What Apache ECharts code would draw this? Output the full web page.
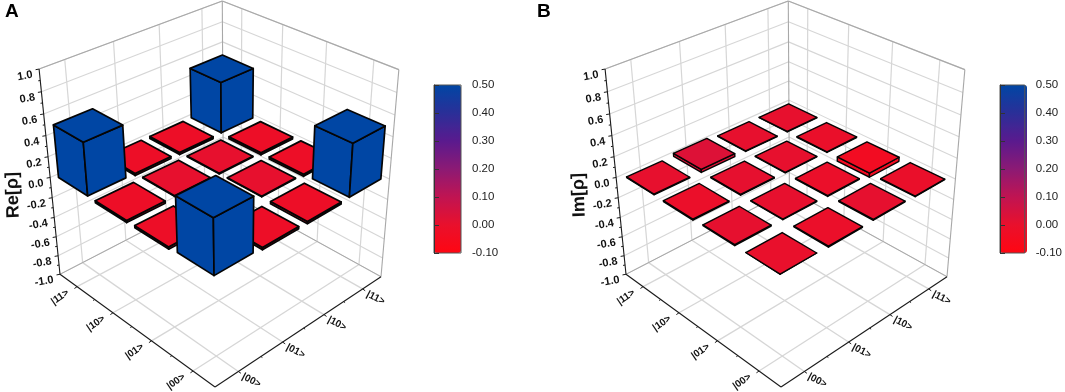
<!DOCTYPE html>
<html><head><meta charset="utf-8">
<style>html,body{margin:0;padding:0;background:#fff}#c{width:1065px;height:392px}</style>
<script src="https://cdn.jsdelivr.net/npm/echarts@6/dist/echarts.min.js"></script>
</head><body><div id="c"></div>
<script>
// ---------- data ----------
const kets = ['|00>', '|01>', '|10>', '|11>'];
const zTicks = [-1.0, -0.8, -0.6, -0.4, -0.2, 0.0, 0.2, 0.4, 0.6, 0.8, 1.0];
const rePart = [
  [ 0.50, -0.02, -0.02,  0.50],
  [-0.02,  0.006, 0.006, -0.02],
  [-0.02,  0.006, 0.006, -0.02],
  [ 0.50, -0.02, -0.02,  0.50]
];
const imPart = [
  [ 0.00,  0.008, -0.008,  0.006],
  [-0.008, 0.005,  0.008,  0.03],
  [ 0.008, -0.008, 0.005,  0.006],
  [-0.006, -0.04, -0.006, 0.005]
];
const colorStops = ['#ff0612', '#e9102c', '#c01452', '#8c1a74', '#5a1a8e', '#2a2f98', '#0046a4'];
const cbMin = -0.1, cbMax = 0.5;

// ---------- 3D projection (perspective camera fitted to the box corners) ----------
const cam = {O:[223.4,189.8], L:[60,274.3], R:[381,276.7], F:[215,387], T:[222,1], zVP:[234,1982]};
function makeCamera(c){
  const S=[c.O[0]-c.L[0]+c.F[0]-c.R[0], c.O[1]-c.L[1]+c.F[1]-c.R[1]];
  const d1=[c.L[0]-c.F[0],c.L[1]-c.F[1]], d2=[c.R[0]-c.F[0],c.R[1]-c.F[1]];
  const det=(a,b)=>a[0]*b[1]-a[1]*b[0], D=det(d1,d2);
  const a=det(S,d2)/D, b=det(d1,S)/D;
  const zc=(c.T[1]-c.O[1])/(c.zVP[1]-c.T[1]);
  const m=[0,1].map(k=>[c.O[k], c.L[k]*(1+a)-c.O[k], c.R[k]*(1+b)-c.O[k], c.zVP[k]*zc]);
  return (p,q,z,dx)=>{
    const w=1+a*p+b*q+zc*z;
    return [(m[0][0]+m[0][1]*p+m[0][2]*q+m[0][3]*z)/w+dx, (m[1][0]+m[1][1]*p+m[1][2]*q+m[1][3]*z)/w];
  };
}
const project=makeCamera(cam);
const zScale=v=>echarts.number.linearMap(v,[-1,1],[0,1]);
const cellPos=i=>(kets.length-0.5-i)/kets.length;     // category index -> floor fraction

function line(a,b,color,width){
  return {type:'line',silent:true,shape:{x1:a[0],y1:a[1],x2:b[0],y2:b[1]},style:{stroke:color,lineWidth:width}};
}
function label(text,at,rotation,align,font){
  return {type:'text',silent:true,x:at[0],y:at[1],rotation,
    style:{text,x:0,y:0,align,verticalAlign:'middle',font,fill:'#111'}};
}
const GRID='#d6d6d6', EDGE='#a8a8a8', AXIS='#1a1a1a';
const BOLD='bold 11px "Liberation Sans"';
const KET='bold 10px "Liberation Sans"';

function frameSeries(dx,letter,title,letterX){
  return {type:'custom',coordinateSystem:'none',silent:true,z:1,data:[[0]],animation:false,
    renderItem(){
      const P=(p,q,z)=>project(p,q,z,dx), ch=[];
      kets.forEach((k,i)=>{
        const f=cellPos(i);
        ch.push(line(P(f,0,0),P(f,0,1),GRID,1.2), line(P(0,f,0),P(0,f,1),GRID,1.2));
        ch.push(line(P(f,0,0),P(f,1,0),GRID,1.3), line(P(0,f,0),P(1,f,0),GRID,1.3));
      });
      zTicks.forEach(t=>{
        const z=zScale(t);
        ch.push(line(P(0,0,z),P(1,0,z),GRID,1.1), line(P(0,0,z),P(0,1,z),GRID,1.1));
      });
      ch.push(line(P(0,0,0),P(0,0,1),EDGE,1.1), line(P(0,0,0),P(1,0,0),EDGE,1), line(P(0,0,0),P(0,1,0),EDGE,1));
      ch.push(line(P(1,0,1),P(0,0,1),EDGE,1.1), line(P(0,0,1),P(0,1,1),EDGE,1.1), line(P(0,1,1),P(0,1,0),EDGE,1.1));
      // axes
      ch.push(line(P(1,0,0),P(1,0,1),AXIS,1.1), line(P(1,0,0),P(1,1,0),AXIS,1.1), line(P(1,1,0),P(0,1,0),AXIS,1.1));
      zTicks.forEach((t,n)=>{
        const a=P(1,0,zScale(t));
        ch.push(line(a,[a[0]-3.5,a[1]+0.6],AXIS,1));
        ch.push(label(t.toFixed(1),[a[0]-6.5,a[1]+5.5],0.17,'right',BOLD));
        if(n<zTicks.length-1){
          const b=P(1,0,zScale((t+zTicks[n+1])/2));
          ch.push(line(b,[b[0]-2,b[1]+0.3],AXIS,1));
        }
      });
      kets.forEach((k,i)=>{
        const f=cellPos(i);
        const a=P(1,f,0), b=P(f,1,0);
        ch.push(line(a,[a[0]-2.6,a[1]+1.8],AXIS,1), line(b,[b[0]+2.6,b[1]+1.8],AXIS,1));
        ch.push(label(k,[a[0]-17,a[1]+10.5],0.6,'center',KET));
        ch.push(label(k,[b[0]+13,b[1]+9],-0.48,'center',KET));
        if(i<kets.length-1){
          const g=(cellPos(i)+cellPos(i+1))/2;
          const c=P(1,g,0), d=P(g,1,0);
          ch.push(line(c,[c[0]-1.5,c[1]+1],AXIS,1), line(d,[d[0]+1.5,d[1]+1],AXIS,1));
        }
      });
      ch.push({type:'text',silent:true,x:13+dx,y:195,rotation:Math.PI/2+0.03,
        style:{text:title,align:'center',verticalAlign:'middle',font:'bold 18px "Liberation Sans"',fill:'#111'}});
      ch.push({type:'text',silent:true,x:letterX,y:12,
        style:{text:letter,align:'left',verticalAlign:'middle',font:'bold 19px "Liberation Sans"',fill:'#000'}});
      return {type:'group',children:ch};
    }};
}

function barsData(mat){
  const out=[];
  mat.forEach((row,i)=>row.forEach((v,j)=>out.push([i,j,v])));
  return out.sort((a,b)=>(b[0]+b[1])-(a[0]+a[1]));     // painter's order, far cells first
}
function barSeries(dx,mat,share,stroke){
  const h=share/kets.length/2;
  return {type:'custom',coordinateSystem:'none',silent:true,z:2,animation:false,
    dimensions:['i','j','value'],data:barsData(mat),
    renderItem(params,api){
      const p=cellPos(api.value(0)), q=cellPos(api.value(1)), v=api.value(2);
      const z1=zScale(Math.max(0,v)), z0=zScale(Math.min(0,v));
      const P=(a,b,z)=>project(a,b,z,dx);
      const color=api.visual('color');
      const face=pts=>({type:'polygon',silent:true,shape:{points:pts},
        style:{fill:color,stroke:'#050505',lineWidth:stroke,lineJoin:'round'}});
      return {type:'group',children:[
        face([P(p+h,q-h,z0),P(p+h,q+h,z0),P(p+h,q+h,z1),P(p+h,q-h,z1)]),
        face([P(p-h,q+h,z0),P(p+h,q+h,z0),P(p+h,q+h,z1),P(p-h,q+h,z1)]),
        face([P(p-h,q-h,z1),P(p+h,q-h,z1),P(p+h,q+h,z1),P(p-h,q+h,z1)])
      ]};
    }};
}

function colorBar(left,seriesIndex){
  return {type:'continuous',seriesIndex,dimension:2,min:cbMin,max:cbMax,left,top:85,padding:0,
    itemWidth:27,itemHeight:168,calculable:false,text:null,showLabel:false,hoverLink:false,
    realtime:false,inRange:{color:colorStops},borderWidth:0};
}
function barGrid(left){return {left,top:85,width:27,height:168,show:true,z:10,
  backgroundColor:'transparent',borderColor:'#555',borderWidth:1};}
const barX=g=>({type:'value',gridIndex:g,show:false,min:0,max:1});
const barY=g=>({type:'value',gridIndex:g,position:'right',min:cbMin,max:cbMax,interval:0.1,z:10,
  axisLine:{show:true,lineStyle:{color:'#333',width:1}},
  axisTick:{show:true,inside:false,length:5,lineStyle:{color:'#333',width:1}},
  splitLine:{show:false},
  axisLabel:{margin:11,color:'#222',fontFamily:'Liberation Sans',fontSize:11.5,
    showMinLabel:true,showMaxLabel:true,formatter:v=>v.toFixed(2)}});

const chart=echarts.init(document.getElementById('c'),null,{renderer:'canvas'});
chart.setOption({
  animation:false,
  backgroundColor:'#fff',
  grid:[barGrid(434),barGrid(1000)],
  xAxis:[barX(0),barX(1)],
  yAxis:[barY(0),barY(1)],
  visualMap:[colorBar(434,1),colorBar(1000,3)],
  series:[
    frameSeries(0,'A','Re[ρ]',5),
    barSeries(0,rePart,0.8,1.7),
    frameSeries(566,'B','Im[ρ]',537),
    barSeries(566,imPart,0.75,1.4)
  ]
});
</script></body></html>
